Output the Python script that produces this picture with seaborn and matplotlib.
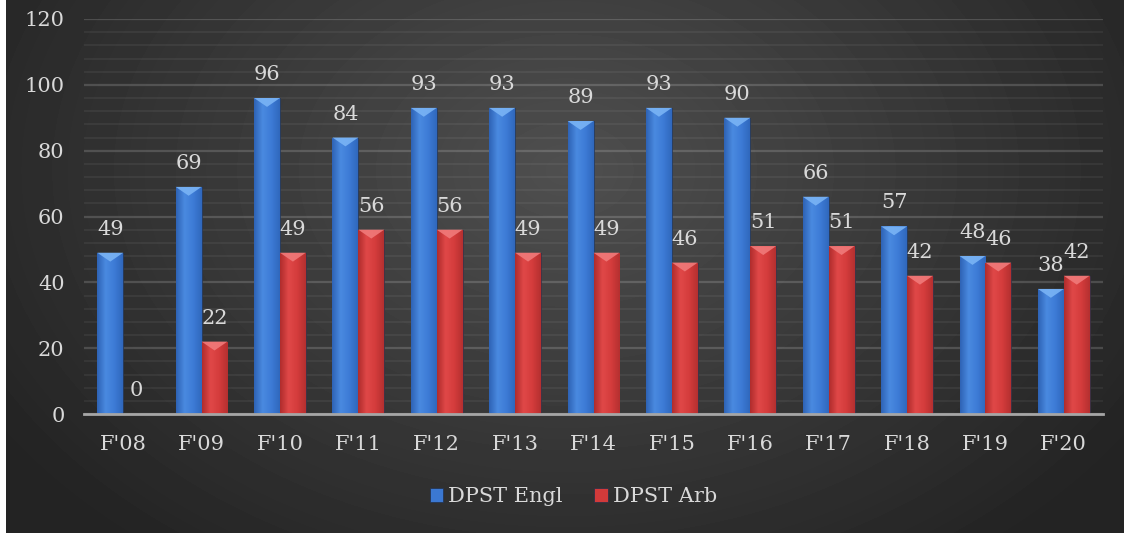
import numpy as np
import pandas as pd
import matplotlib
matplotlib.use("Agg")
import matplotlib.pyplot as plt
import seaborn as sns
from matplotlib.patches import Polygon
from matplotlib.colors import LinearSegmentedColormap

categories = ["F'08", "F'09", "F'10", "F'11", "F'12", "F'13", "F'14",
              "F'15", "F'16", "F'17", "F'18", "F'19", "F'20"]
engl = [49, 69, 96, 84, 93, 93, 89, 93, 90, 66, 57, 48, 38]
arb = [0, 22, 49, 56, 56, 49, 49, 46, 51, 51, 42, 46, 42]
series = ["DPST Engl", "DPST Arb"]
yticks = [0, 20, 40, 60, 80, 100, 120]

sns.set_theme(style="dark")
plt.rcParams['font.family'] = ['DejaVu Serif']

TXT = '#d9d9d9'
FS = 15
W, H = 1124, 533
fig = plt.figure(figsize=(W / 100, H / 100), dpi=100)
fig.patch.set_facecolor('white')

# background radial gradient
bg = fig.add_axes([6 / W, 0, 1 - 6 / W, 1])
h, w = H, W - 6
yy, xx = np.mgrid[0:h, 0:w]
cx, cy = 560, 170
r = np.sqrt(((xx - cx) / (w * 0.6)) ** 2 + ((yy - cy) / (h * 0.9)) ** 2)
val = np.clip(0.31 - 0.17 * r, 0.14, 0.31)
bg.imshow(val, cmap='gray', vmin=0, vmax=1, aspect='auto', interpolation='bilinear')
bg.axis('off')

ax = fig.add_axes([84 / W, (H - 414) / H, (1103 - 84) / W, (414 - 19) / H])
ax.patch.set_alpha(0)

df = pd.DataFrame({
    'cat': categories * 2,
    'val': engl + arb,
    'series': [series[0]] * len(categories) + [series[1]] * len(categories),
})
blue, red = '#3b78d2', '#d23a3a'
sns.barplot(data=df, x='cat', y='val', hue='series', palette=[blue, red],
            width=0.66, saturation=1, ax=ax, edgecolor='#22304a', linewidth=0.5,
            zorder=3)

cmaps = {
    0: LinearSegmentedColormap.from_list('b', ['#2e63b5', '#4a8ae0', '#3d7bd6', '#3068bd']),
    1: LinearSegmentedColormap.from_list('r', ['#b02c2c', '#e04848', '#d43c3c', '#b53030']),
}
tri_col = {0: '#7ab4f5', 1: '#f07a7a'}
grad = np.linspace(0, 1, 64).reshape(1, -1)
for si, cont in enumerate(ax.containers):
    for p in cont.patches:
        x0, y0 = p.get_x(), p.get_y()
        bw, bh = p.get_width(), p.get_height()
        if bh <= 0:
            continue
        im = ax.imshow(grad, cmap=cmaps[si], extent=[x0, x0 + bw, y0, y0 + bh],
                       aspect='auto', zorder=3.5, interpolation='bilinear')
        im.set_clip_path(p)
        depth = 2.7
        tri = Polygon([[x0, y0 + bh], [x0 + bw, y0 + bh], [x0 + bw / 2, y0 + bh - depth]],
                      closed=True, facecolor=tri_col[si], edgecolor='none', zorder=3.6, alpha=0.9)
        ax.add_patch(tri)
    ax.bar_label(cont, padding=10, color=TXT, fontsize=FS)

ax.set_xlim(-0.5, len(categories) - 0.5)
ax.set_ylim(0, 120)
ax.set_yticks(yticks)
ax.set_yticks(np.arange(0, 121, 4), minor=True)
ax.grid(True, which='major', axis='y', color='white', alpha=0.16, linewidth=1.6)
ax.grid(True, which='minor', axis='y', color='white', alpha=0.06, linewidth=1.3)
ax.grid(False, axis='x')
ax.set_axisbelow(True)
ax.tick_params(axis='both', which='both', length=0, colors=TXT, labelsize=FS)
ax.tick_params(axis='y', pad=14)
ax.tick_params(axis='x', pad=15)
ax.set_xlabel('')
ax.set_ylabel('')
for s in ['top', 'left', 'right']:
    ax.spines[s].set_visible(False)
ax.spines['bottom'].set_color('#a6a6a6')
ax.spines['bottom'].set_linewidth(2)
ax.spines['bottom'].set_zorder(5)

handles, labels = ax.get_legend_handles_labels()
if ax.get_legend() is not None:
    ax.get_legend().remove()
fig.legend(handles, labels, loc='center', bbox_to_anchor=(0.51, 0.068), ncol=2,
           frameon=False, fontsize=FS, labelcolor=TXT, handlelength=0.65,
           handleheight=0.65, handletextpad=0.25, columnspacing=1.5)

fig.savefig('out.png', dpi=100, facecolor=fig.get_facecolor())
